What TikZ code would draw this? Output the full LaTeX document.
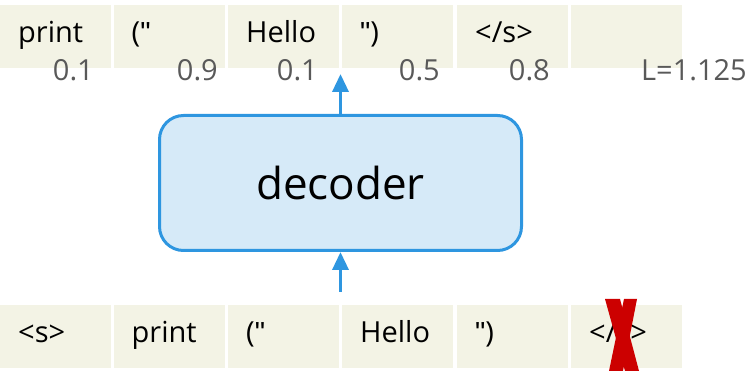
\documentclass[tikz,border=0pt]{standalone}
\usepackage{fontspec}
\setmainfont[Ligatures=ResetAll]{Open Sans}
\newfontfamily\quotefont{Liberation Sans}
\usetikzlibrary{arrows.meta}

\definecolor{cellfill}{RGB}{243,243,229}
\definecolor{decblue}{RGB}{46,150,224}
\definecolor{decfill}{RGB}{214,234,248}
\definecolor{numgray}{RGB}{89,89,89}
\definecolor{crossred}{RGB}{204,0,0}

% straight double quote
\newcommand{\sq}{{\quotefont\symbol{"22}}}

\tikzset{
  token/.style={anchor=north west, fill=cellfill, draw=none,
    inner xsep=18pt, inner ysep=0pt, text width=75pt, align=left,
    text height=37pt, text depth=26pt,
    font=\fontsize{29}{31}\selectfont},
  score/.style={anchor=base east, inner sep=0pt, text=numgray,
    font=\fontsize{29}{31}\selectfont},
  decbox/.style={draw=decblue, fill=decfill, line width=3pt,
    rounded corners=24pt, minimum width=362pt, minimum height=135pt,
    font=\fontsize{44}{48}\selectfont},
  flow/.style={draw=decblue, line width=3.5pt,
    -{Triangle[length=18pt,width=16pt]}},
  strike/.style={fill=crossred, draw=none},
}

\begin{document}
\begin{tikzpicture}[x=1pt,y=-1pt]
  \useasboundingbox (0,0) rectangle (750,371);
  \clip (0,0) rectangle (750,371);

  % output tokens
  \node[token] (t1) at (0,5)     {print};
  \node[token] (t2) at (113.5,5) {(\sq};
  \node[token] (t3) at (228,5)   {Hello};
  \node[token] (t4) at (342,5)   {\sq)};
  \node[token] (t5) at (457,5)   {</s>};
  \node[token] (t6) at (571,5)   {};

  % per-token scores and the loss
  \node[score] (n1) at (94,81)  {0.1};
  \node[score] (n2) at (218,81) {0.9};
  \node[score] (n3) at (318,81) {0.1};
  \node[score] (n4) at (440,81) {0.5};
  \node[score] (n5) at (550,81) {0.8};
  \node[score] (loss) at (747,81) {L=1.125};

  % input tokens
  \node[token] (b1) at (0,305)     {<s>};
  \node[token] (b2) at (113.5,305) {print};
  \node[token] (b3) at (228,305)   {(\sq};
  \node[token] (b4) at (342,305)   {Hello};
  \node[token] (b5) at (457,305)   {\sq)};
  \node[token] (b6) at (571,305)   {</s>};

  % decoder
  \node[decbox] (dec) at (340.5,183) {decoder};

  \coordinate (outtip) at (340.5,74);
  \coordinate (infoot) at (340.5,292);
  \draw[flow] (dec.north) -- (outtip);
  \draw[flow] (infoot) -- (dec.south);

  % struck-out end token
  \path[strike] (605,299) -- (620,299) -- (639,371) -- (625,371) -- cycle;
  \path[strike] (624,299) -- (637,299) -- (623,371) -- (609,371) -- cycle;
\end{tikzpicture}
\end{document}
